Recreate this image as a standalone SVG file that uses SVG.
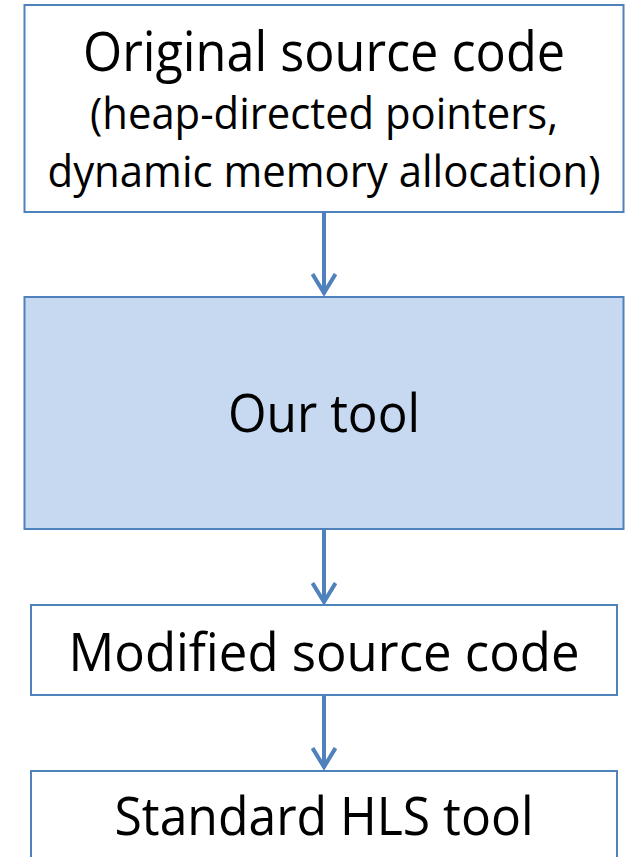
<svg xmlns="http://www.w3.org/2000/svg" width="625" height="857" viewBox="0 0 625 857">
  <style>
    .box { fill: #ffffff; stroke: #4f81bd; stroke-width: 2; }
    .hl { fill: #c6d9f1; }
    .lbl { font-family: "Open Sans", "Noto Sans", sans-serif; fill: #000000; text-anchor: middle; }
    .big { font-size: 53px; }
    .first { font-size: 55px; }
    .small { font-size: 43px; }
    .conn { stroke: #4f81bd; stroke-width: 4; fill: none; }
  </style>
  <defs>
    <!-- open V arrowhead pointing along the path direction -->
    <marker id="arrow" viewBox="0 0 24 26" refX="21" refY="13" markerWidth="24" markerHeight="26" markerUnits="userSpaceOnUse" orient="auto">
      <path d="M1,1.5 L20,13 L1,24.5" fill="none" stroke="#4f81bd" stroke-width="4" stroke-linejoin="miter"/>
    </marker>
  </defs>

  <g id="connectors">
    <path class="conn" d="M324,212 V294" marker-end="url(#arrow)"/>
    <path class="conn" d="M324,529 V603" marker-end="url(#arrow)"/>
    <path class="conn" d="M324,696 V768" marker-end="url(#arrow)"/>
  </g>

  <g id="node-original">
    <rect class="box" x="24.5" y="5" width="599" height="207"/>
    <text class="lbl first" x="324" y="71" textLength="482" lengthAdjust="spacingAndGlyphs">Original source code</text>
    <text class="lbl small" x="324" y="129" textLength="468" lengthAdjust="spacingAndGlyphs">(heap-directed pointers,</text>
    <text class="lbl small" x="324" y="187" textLength="553" lengthAdjust="spacingAndGlyphs">dynamic memory allocation)</text>
  </g>

  <g id="node-tool">
    <rect class="box hl" x="24.5" y="297" width="599" height="232"/>
    <text class="lbl big" x="324" y="432" textLength="192" lengthAdjust="spacingAndGlyphs">Our tool</text>
  </g>

  <g id="node-modified">
    <rect class="box" x="31" y="605" width="586" height="90"/>
    <text class="lbl big" x="324" y="671" textLength="511" lengthAdjust="spacingAndGlyphs">Modified source code</text>
  </g>

  <g id="node-hls">
    <rect class="box" x="31" y="771" width="586" height="100"/>
    <text class="lbl big" x="324" y="835" textLength="419" lengthAdjust="spacingAndGlyphs">Standard HLS tool</text>
  </g>
</svg>
